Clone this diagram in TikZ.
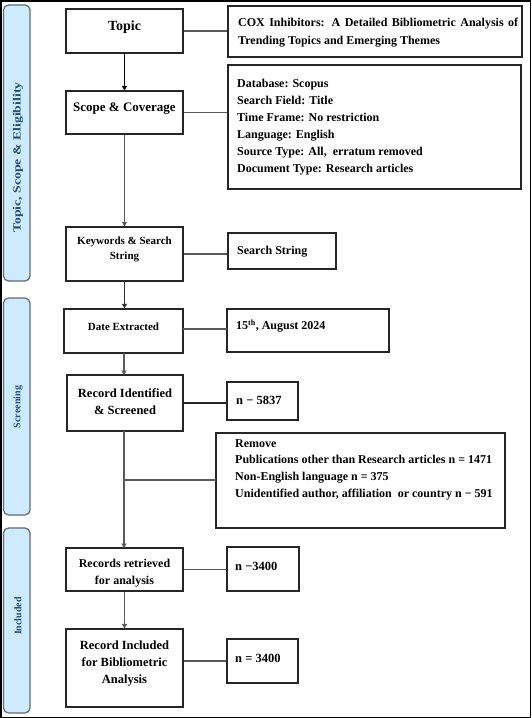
\documentclass[tikz,border=0pt]{standalone}
\usepackage{fontspec}
\setmainfont{Liberation Serif}
\usetikzlibrary{arrows.meta}
\definecolor{sidefill}{HTML}{CDEBFD}
\definecolor{sidedraw}{HTML}{5E6A75}
\definecolor{sidetext}{HTML}{1F4E79}
\definecolor{conn}{HTML}{5A5A5A}
\tikzset{
  box/.style={draw=black!85, line width=1.2pt, inner sep=0pt, fill=white},
  sidebox/.style={draw=sidedraw, line width=1.2pt, fill=sidefill, rounded corners=5pt, inner sep=0pt},
  sidetxt/.style={rotate=90, inner sep=0pt, text=sidetext, font=\fontsize{10}{12}\selectfont\bfseries},
  ctxt/.style={inner sep=0pt, align=center, font=\fontsize{#1}{17}\selectfont\bfseries},
  ltxt/.style={inner sep=0pt, align=left, anchor=north west, font=\fontsize{12}{17}\selectfont\bfseries},
  ntxt/.style={inner sep=0pt, anchor=west, font=\fontsize{#1}{14}\selectfont\bfseries},
  conline/.style={draw=conn, line width=1.1pt},
  arrline/.style={draw=#1, line width=1.1pt, -{Triangle[width=5pt,length=4.5pt]}},
}
\begin{document}
\begin{tikzpicture}[x=1pt,y=-1pt]
\useasboundingbox (0,0) rectangle (531,718);
\draw[line width=1.5pt] (0.75,0.75) rectangle (530.25,717.25);

% sidebars
\node[sidebox, minimum width=26.5pt, minimum height=276pt] (s1) at (16.75,143) {};
\node[sidebox, minimum width=26.5pt, minimum height=217pt] (s2) at (16.75,406.5) {};
\node[sidebox, minimum width=26.5pt, minimum height=185pt] (s3) at (16.75,620.5) {};
\node[sidetxt, font=\fontsize{11}{12}\selectfont\bfseries] (s1t) at (18,157.5) {\scalebox{1.25}[1]{Topic, Scope \& Eligibility}};
\node[sidetxt] (s2t) at (18,407) {Screening};
\node[sidetxt] (s3t) at (18,616) {Included};

% left column boxes
\node[box, minimum width=117pt, minimum height=44pt] (topic) at (124.5,31) {};
\node[box, minimum width=117pt, minimum height=43pt] (scope) at (124.5,112.5) {};
\node[box, minimum width=117pt, minimum height=54pt] (kw) at (124.5,254) {};
\node[box, minimum width=119pt, minimum height=44pt] (date) at (123.5,331) {};
\node[box, minimum width=116pt, minimum height=56pt] (ident) at (125,403) {};
\node[box, minimum width=117pt, minimum height=43pt] (retr) at (124.5,569.5) {};
\node[box, minimum width=117pt, minimum height=78pt] (incl) at (124.5,668) {};

\node[ctxt=14] (topicT) at (124.5,27) {Topic};
\node[ctxt=13] (scopeT) at (124.5,109) {Scope \& Coverage};
\node[ctxt=11, font=\fontsize{11}{15}\selectfont\bfseries] (kwT) at (124.5,249.5) {Keywords \& Search\\String};
\node[ctxt=11] (dateT) at (123.5,327) {Date Extracted};
\node[ctxt=12.5] (identT) at (125,401.5) {Record Identified\\\& Screened};
\node[ctxt=12] (retrT) at (124.5,573.5) {Records retrieved\\for analysis};
\node[ctxt=12.5] (inclT) at (124.5,664) {Record Included\\for Bibliometric\\Analysis};

% right column boxes
\node[box, minimum width=294pt, minimum height=51pt] (cox) at (375,31.5) {};
\node[box, minimum width=293pt, minimum height=124pt] (db) at (374.5,127) {};
\node[box, minimum width=108pt, minimum height=36pt] (ss) at (282,251) {};
\node[box, minimum width=162pt, minimum height=43pt] (d15) at (308,330.5) {};
\node[box, minimum width=71pt, minimum height=38pt] (n1) at (262.5,401) {};
\node[box, minimum width=289pt, minimum height=95pt] (rm) at (360.5,480.5) {};
\node[box, minimum width=72pt, minimum height=44pt] (n2) at (263,569) {};
\node[box, minimum width=71pt, minimum height=44pt] (n3) at (262.5,661) {};

\node[ltxt, font=\fontsize{12}{18}\selectfont\bfseries] (coxT) at (238,18) {\makebox[280pt][s]{COX Inhibitors: A Detailed Bibliometric Analysis of}\\Trending Topics and Emerging Themes};
\node[ltxt] (dbT) at (237,79) {Database: Scopus\\Search Field: Title\\Time Frame: No restriction\\Language: English\\Source Type: All,\ \ erratum removed\\Document Type: Research articles};
\node[ntxt=12] (ssT) at (237,252) {Search String};
\node[ntxt=12] (d15T) at (236,326) {15\textsuperscript{th}, August 2024};
\node[ntxt=12.5] (n1T) at (236,400) {n − 5837};
\node[ltxt, font=\fontsize{12}{16.7}\selectfont\bfseries] (rmT) at (235,439) {Remove\\Publications other than Research articles n = 1471\\Non-English language n = 375\\Unidentified author, affiliation\ \ or country n − 591};
\node[ntxt=12.5] (n2T) at (235,566) {n −3400};
\node[ntxt=12.5] (n3T) at (235,658) {n = 3400};

% helper coordinates
\coordinate (dTop) at (124,353);
\coordinate (iTop) at (124,375);
\coordinate (iBot) at (124,431);
\coordinate (rTop) at (124,548);
\coordinate (brL) at (124,480);
\coordinate (brR) at (216,480);
\coordinate (dL) at (183,329);
\coordinate (dR) at (227,329);

% vertical flow
\draw[arrline=black] (topic.south) -- (scope.north);
\draw[arrline=conn] (scope.south) -- (kw.north);
\draw[arrline=black!80] (kw.south) -- (kw.south |- date.north);
\draw[arrline=conn] (dTop) -- (iTop);
\draw[arrline=conn] (iBot) -- (rTop);
\draw[arrline=conn] (retr.south) -- (retr.south |- incl.north);

% horizontal connectors
\draw[conline] (topic.east) -- (topic.east -| cox.west);
\draw[conline] (scope.east) -- (scope.east -| db.west);
\draw[conline] (kw.east) -- (kw.east -| ss.west);
\draw[conline] (dL) -- (dR);
\draw[conline, draw=black!85] (ident.east) -- (ident.east -| n1.west);
\draw[conline] (brL) -- (brR);
\draw[conline] (retr.east) -- (retr.east -| n2.west);
\draw[conline] (incl.east |- n3.west) -- (n3.west);
\end{tikzpicture}
\end{document}
